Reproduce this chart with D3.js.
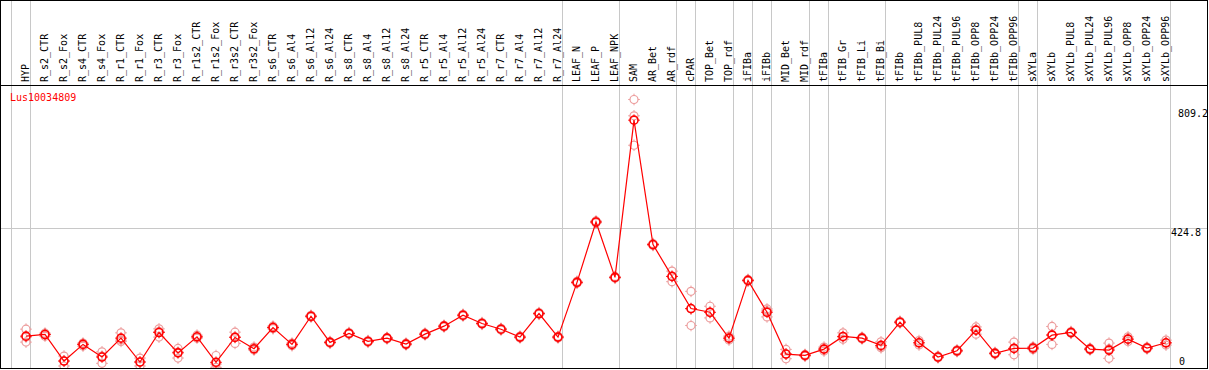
<!DOCTYPE html>
<html><head><meta charset="utf-8">
<script src="https://cdn.jsdelivr.net/npm/d3@7"></script>
<style>
html,body{margin:0;padding:0;background:#fff;}
svg{display:block;}
text{font-family:"DejaVu Sans Mono",monospace;font-size:10px;}
</style></head>
<body><svg id="c" width="1209" height="370"></svg>
<script>
const categories = ["HYP","R_s2_CTR","R_s2_Fox","R_s4_CTR","R_s4_Fox","R_r1_CTR","R_r1_Fox","R_r3_CTR","R_r3_Fox","R_r1s2_CTR","R_r1s2_Fox","R_r3s2_CTR","R_r3s2_Fox","R_s6_CTR","R_s6_Al4","R_s6_Al12","R_s6_Al24","R_s8_CTR","R_s8_Al4","R_s8_Al12","R_s8_Al24","R_r5_CTR","R_r5_Al4","R_r5_Al12","R_r5_Al24","R_r7_CTR","R_r7_Al4","R_r7_Al12","R_r7_Al24","LEAF_N","LEAF_P","LEAF_NPK","SAM","AR_Bet","AR_rdf","cPAR","TOP_Bet","TOP_rdf","iFIBa","iFIBb","MID_Bet","MID_rdf","tFIBa","tFIB_Gr","tFIB_Li","tFIB_Bi","tFIBb","tFIBb_PUL8","tFIBb_PUL24","tFIBb_PUL96","tFIBb_OPP8","tFIBb_OPP24","tFIBb_OPP96","sXYLa","sXYLb","sXYLb_PUL8","sXYLb_PUL24","sXYLb_PUL96","sXYLb_OPP8","sXYLb_OPP24","sXYLb_OPP96"];
const means = [96.9,101.9,21.2,71.7,33.3,90.8,18.2,108.0,46.1,94.9,17.3,93.0,58.5,123.2,71.8,157.4,77.8,105.0,80.8,90.8,72.7,103.0,127.2,160.5,135.3,118.0,93.9,165.6,93.9,260.4,444.1,275.5,753.6,375.4,278.5,180.7,169.5,90.8,266.4,169.5,42.4,38.4,57.5,96.0,90.8,68.7,139.3,76.6,33.3,52.4,115.0,44.5,59.6,60.6,99.9,108.0,57.5,54.5,87.8,60.6,76.7];
const rep1 = [118.1,106.0,36.3,75.7,49.3,106.9,30.3,119.0,59.6,99.9,38.0,109.0,63.6,127.2,75.7,160.2,80.5,107.8,83.4,93.1,75.6,105.9,130.0,163.3,138.1,120.6,96.8,168.4,96.5,263.5,447.2,278.4,816.5,378.6,294.6,233.1,187.7,96.9,269.3,179.5,56.6,41.3,63.6,106.9,93.6,79.6,142.1,83.3,36.0,55.3,125.0,47.4,78.7,64.5,126.3,110.9,60.3,75.7,94.8,63.5,84.8];
const rep2 = [93.9,102.9,21.2,72.7,36.3,84.8,18.2,111.1,48.4,93.9,12.0,95.1,57.5,123.2,71.8,157.1,77.6,104.6,80.9,91.0,72.4,102.6,127.0,160.2,135.0,118.2,93.5,165.3,94.1,260.1,443.8,275.2,766.9,375.0,278.5,179.8,168.6,90.8,266.1,173.8,42.4,38.2,57.5,93.9,90.6,65.1,139.0,76.6,33.1,52.1,117.2,44.2,59.9,60.6,101.7,107.7,57.2,58.4,87.8,60.3,75.7];
const rep3 = [78.7,96.9,6.1,66.6,14.2,80.8,6.1,93.9,30.3,90.8,2.0,74.8,54.5,119.3,67.8,154.9,75.3,102.6,78.1,88.3,70.1,100.5,124.6,158.0,132.8,115.2,91.4,163.1,91.1,257.6,441.3,272.9,677.3,372.6,262.5,129.3,152.3,84.8,263.8,155.3,28.2,35.7,51.5,87.2,88.2,61.5,136.8,69.9,30.8,49.8,102.9,41.9,40.3,56.6,71.8,105.4,55.0,29.4,80.8,58.0,69.6];
const groupEnds = ["HYP","R_r7_Al24","LEAF_NPK","AR_rdf","cPAR","TOP_rdf","iFIBa","iFIBb","MID_rdf","tFIBa","tFIB_Bi","tFIBb_OPP96","sXYLa","sXYLb_OPP96"];
const yTicks = [809.2, 424.8, 0];
const yTickLabels = ["809.2", "424.8", "0"];
const geneTitle = "Lus10034809";

const svg = d3.select("#c");
const x = d3.scalePoint().domain(categories).range([26, 1166]);
const step = x.step();
const y = d3.scaleLinear().domain([0, 424.8]).range([368, 228.3]);

const RED = "#ff0000", PINK = "#ec9c9c", GRID = "#c8c8c8";

// vertical group separators
const sepX = [x(categories[0]) - step + 4.5].concat(groupEnds.map(c => x(c) + 4.5));
svg.append("g").selectAll("line").data(sepX).join("line")
  .attr("x1", d => Math.floor(d) + 0.5).attr("x2", d => Math.floor(d) + 0.5)
  .attr("y1", 0).attr("y2", 368).attr("stroke", GRID).attr("stroke-width", 1);

// horizontal mid grid line
svg.append("line").attr("x1", 0).attr("x2", 1207)
  .attr("y1", Math.floor(y(424.8)) + 0.5).attr("y2", Math.floor(y(424.8)) + 0.5)
  .attr("stroke", GRID);

// header labels
svg.append("g").selectAll("text").data(categories).join("text")
  .attr("transform", d => `translate(${x(d) + 3},82) rotate(-90)`)
  .attr("text-anchor", "start").attr("fill", "#000").text(d => d);

// title
svg.append("text").attr("x", 10).attr("y", 101).attr("fill", RED).text(geneTitle);

// y tick labels
const labelX = [1178, 1171, 1179];
svg.append("g").selectAll("text").data(yTicks).join("text")
  .attr("x", (d, i) => labelX[i]).attr("text-anchor", "start")
  .attr("y", (d, i) => Math.min(y(d) + (i === 0 ? 15 : 8), 365))
  .attr("fill", "#000").text((d, i) => yTickLabels[i]);

// clip for data
svg.append("clipPath").attr("id", "clip").append("rect")
  .attr("x", 1).attr("y", 86).attr("width", 1206).attr("height", 282);
const plot = svg.append("g").attr("clip-path", "url(#clip)");

function marker(g, cx, cy, color, sw) {
  g.append("circle").attr("cx", cx).attr("cy", cy).attr("r", 4)
    .attr("fill", "none").attr("stroke", color).attr("stroke-width", sw);
  const r1 = 4, r2 = 5.8;
  const p = `M${cx},${cy - r1}V${cy - r2}M${cx},${cy + r1}V${cy + r2}M${cx - r1},${cy}H${cx - r2}M${cx + r1},${cy}H${cx + r2}`;
  g.append("path").attr("d", p).attr("stroke", color).attr("stroke-width", 1).attr("fill", "none");
}

// replicates
const reps = [rep1, rep2, rep3];
const repG = plot.append("g");
reps.forEach(arr => arr.forEach((v, i) => marker(repG, x(categories[i]), y(v), PINK, 1.2)));

// mean line
const line = d3.line().x((d, i) => x(categories[i])).y(d => y(d));
plot.append("path").datum(means).attr("d", line).attr("fill", "none")
  .attr("stroke", RED).attr("stroke-width", 1.2);

// mean markers
const meanG = plot.append("g");
means.forEach((v, i) => marker(meanG, x(categories[i]), y(v), RED, 1.6));

// frame & header line (on top)
svg.append("line").attr("x1", 0).attr("x2", 1208).attr("y1", 85.5).attr("y2", 85.5).attr("stroke", "#000");
svg.append("rect").attr("x", 0.5).attr("y", 0.5).attr("width", 1207).attr("height", 368)
  .attr("fill", "none").attr("stroke", "#000");
</script></body></html>
